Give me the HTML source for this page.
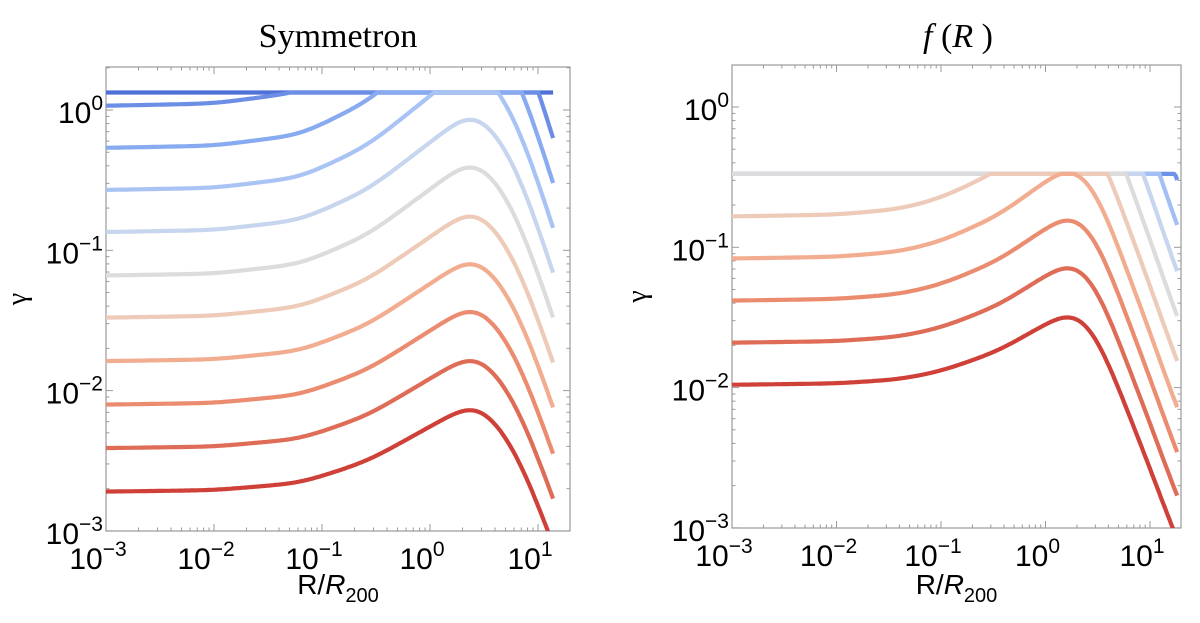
<!DOCTYPE html>
<html><head><meta charset="utf-8"><style>
body{margin:0;background:#fff;}
svg text{font-family:"Liberation Sans",sans-serif;}
</style></head><body>
<svg id="chart" width="1200" height="618" viewBox="0 0 1200 618" xmlns="http://www.w3.org/2000/svg">
<defs>
<clipPath id="clipL"><rect x="106" y="67" width="464" height="464"/></clipPath>
<clipPath id="clipR"><rect x="732" y="65" width="449" height="463"/></clipPath>
</defs>
<text x="338" y="47" text-anchor="middle" style="font-family:'Liberation Serif',serif;font-size:34px">Symmetron</text>
<text x="958" y="47" text-anchor="middle" style="font-family:'Liberation Serif',serif;font-size:34px;font-style:italic">f<tspan font-style="normal"> (</tspan>R<tspan font-style="normal"> )</tspan></text>
<g id="gL"></g>
<g id="gR"></g>
</svg>
<script>
// ---- data (log10 values) ----
const profileLogR = [-3.5, -3, -2, -1.2, -0.58, 0, 0.43, 0.71, 0.9, 1.16, 1.5];
const symProfile = [0, 0, 0.01, 0.06, 0.21, 0.45, 0.63, 0.41, 0.14, -0.36, -1.0];
const frProfileLogR = [-3.5, -3, -2, -1.4, -1, -0.45, 0, 0.29, 0.5, 0.79, 1.0, 1.24, 1.5];
const frProfile = [0, 0, 0.01, 0.04, 0.1, 0.25, 0.45, 0.57, 0.38, -0.2, -0.6, -1.1, -1.6];
// flat level (small R), peak level and end level (log10 gamma) per curve
const symAmplitudes = [-2.72, -2.41, -2.10, -1.79, -1.48, -1.18, -0.87, -0.57, -0.27, 0.03, 0.34];
const symPeaks = [-2.14, -1.79, -1.44, -1.10, -0.76, -0.41, -0.07, 0.27, 0.61, 0.95, 1.30];
const symEnds = [-3.10, -2.77, -2.45, -2.12, -1.80, -1.48, -1.16, -0.84, -0.52, -0.20, 0.14];
const frAmplitudes = [-1.98, -1.68, -1.38, -1.08, -0.78, -0.47, -0.17, 0.14, 0.46];
const frPeaks = [-1.50, -1.15, -0.81, -0.47, -0.13, 0.22, 0.57, 0.92, 1.27];
const frEnds = [-3.08, -2.77, -2.46, -2.14, -1.81, -1.49, -1.17, -0.84, -0.52];
const symCap = 0.125;
const frCap = -0.477;
const symColors = ['#cf4038','#df6c57','#eb8c70','#f2ac90','#eecab8','#dcdcdc','#c7d5ef','#a9c3f4','#88aaf1','#6c8fe5','#4f70d6'];
const frColors = ['#cf4038','#df6c57','#eb8c70','#f2ac90','#eecab8','#dcdcdc','#c7d5ef','#a3bff3','#6f92e8'];
const xTickExps = [-3, -2, -1, 0, 1];
const yTickExps = [0, -1, -2, -3];

const NS = 'http://www.w3.org/2000/svg';
function mk(tag, attrs, parent){const e=document.createElementNS(NS,tag);for(const k in attrs)e.setAttribute(k,attrs[k]);parent.appendChild(e);return e;}
function lin(xs, ys, x){
  if(x<=xs[0]) return ys[0];
  for(let i=0;i<xs.length-1;i++){ if(x<=xs[i+1]){const t=(x-xs[i])/(xs[i+1]-xs[i]);return ys[i]+t*(ys[i+1]-ys[i]);} }
  return ys[ys.length-1];
}
function smooth(xs, ys, x){
  const s=0.15; let sw=0, sv=0;
  for(let j=-30;j<=30;j++){const d=j*s/10; const w=Math.exp(-d*d/(2*s*s)); sw+=w; sv+=w*lin(xs,ys,x+d);}
  return sv/sw;
}

function panel(cfg){
  const g=document.getElementById(cfg.gid);
  const sx=v=>cfg.x0+(v-cfg.xmin)*cfg.xdec;
  const sy=v=>cfg.y0-(v-0)*cfg.ydec;
  const L=cfg.left,R=cfg.right,T=cfg.top,B=cfg.bottom;
  const frame=mk('rect',{x:L,y:T,width:R-L,height:B-T,fill:'none',stroke:'#9a9a9a','stroke-width':1.2},g);
  
  
  for(let e=-3;e<=1;e++){
    for(let m=1;m<10;m++){
      const v=e+Math.log10(m); const x=sx(v); if(x>R) continue;
      const len=m===1?7:3.5;
      mk('line',{x1:x,y1:B,x2:x,y2:B-len,stroke:'#9a9a9a','stroke-width':1},g);
      mk('line',{x1:x,y1:T,x2:x,y2:T+len,stroke:'#9a9a9a','stroke-width':1},g);
    }
  }
  for(let e=-4;e<=1;e++){
    for(let m=1;m<10;m++){
      const v=e+Math.log10(m); const y=sy(v); if(y<T||y>B) continue;
      const len=m===1?7:3.5;
      mk('line',{x1:L,y1:y,x2:L+len,y2:y,stroke:'#9a9a9a','stroke-width':1},g);
      mk('line',{x1:R,y1:y,x2:R-len,y2:y,stroke:'#9a9a9a','stroke-width':1},g);
    }
  }
  xTickExps.forEach(e=>{
    const t=mk('text',{x:sx(e)-8,y:B+38,'text-anchor':'middle','font-size':30},g);
    
    
    t.innerHTML='10<tspan dy="-13" font-size="21">'+(e<0?'\u2212'+(-e):e)+'</tspan>';
  });
  yTickExps.forEach(e=>{
    const t=mk('text',{x:L-3,y:sy(e)+13,'text-anchor':'end','font-size':30},g);
    
    
    t.innerHTML='10<tspan dy="-13" font-size="21">'+(e<0?'\u2212'+(-e):e)+'</tspan>';
  });
  const xl=mk('text',{x:(L+R)/2,y:594,'text-anchor':'middle','font-size':28},g);
  
  
  xl.innerHTML='R/<tspan font-style="italic">R</tspan><tspan dy="8" font-size="20">200</tspan>';
  const yl=mk('text',{x:0,y:0,'text-anchor':'middle','font-size':28,transform:'translate('+cfg.ylx+','+((T+B)/2)+') rotate(-90)',style:"font-family:'Liberation Serif',serif"},g);
  
  
  yl.textContent='\u03b3';
  // smoothed profile samples
  const N=300, lrs=[], ps=[];
  for(let i=0;i<=N;i++){const lr=-3+(cfg.xend+3)*i/N; lrs.push(lr); ps.push(smooth(cfg.pX,cfg.pY,lr));}
  let ip=0; for(let i=0;i<=N;i++) if(ps[i]>ps[ip]) ip=i;
  const pPeak=ps[ip], pEnd=ps[N];
  const cg=mk('g',{'clip-path':'url(#'+cfg.clip+')'},g);
  for(let k=cfg.amps.length-1;k>=0;k--){
    const amp=cfg.amps[k], pk=cfg.peaks[k], en=cfg.ends[k];
    const pts=[];
    for(let i=0;i<=N;i++){
      let v;
      if(i<=ip) v=amp+(pk-amp)*ps[i]/pPeak;
      else v=en+(pk-en)*(ps[i]-pEnd)/(pPeak-pEnd);
      v=Math.min(v,cfg.cap);
      pts.push(sx(lrs[i]).toFixed(1)+','+sy(v).toFixed(1));
    }
    const pl=mk('polyline',{points:pts.join(' '),fill:'none',stroke:cfg.colors[k],'stroke-width':4.2,'stroke-linejoin':'round'},cg);
    
    
  }
}
panel({gid:'gL',clip:'clipL',x0:106,xmin:-3,xdec:108,y0:110,ydec:140.3,left:106,right:570,top:67,bottom:531,
  amps:symAmplitudes,peaks:symPeaks,ends:symEnds,pX:profileLogR,pY:symProfile,cap:symCap,colors:symColors,xend:1.14,ylx:26});
panel({gid:'gR',clip:'clipR',x0:732,xmin:-3,xdec:104.5,y0:107,ydec:140.3,left:732,right:1181,top:65,bottom:528,
  amps:frAmplitudes,peaks:frPeaks,ends:frEnds,pX:frProfileLogR,pY:frProfile,cap:frCap,colors:frColors,xend:1.26,ylx:646});
</script>
</body></html>
